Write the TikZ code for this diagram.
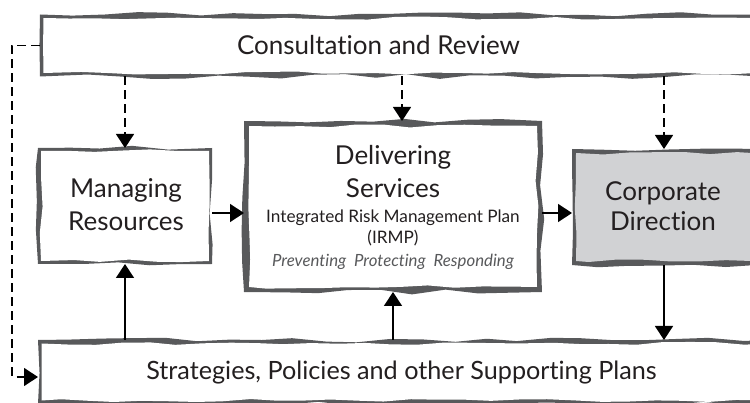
\documentclass[tikz,border=0pt]{standalone}
\usepackage{fontspec}
\setmainfont[Ligatures=NoCommon]{Lato}
\usetikzlibrary{arrows.meta,decorations.pathmorphing,calc}
\definecolor{edge}{HTML}{58595B}
\definecolor{cdfill}{HTML}{D1D2D4}
\definecolor{ink}{HTML}{231F20}
\tikzset{
 boxnode/.style={rectangle, inner sep=0pt, outer sep=0pt},
 outerjag/.style={fill=edge, decorate, decoration={random steps, segment length=32pt, amplitude=2.4pt}},
 innerjag/.style={decorate, decoration={random steps, segment length=27pt, amplitude=1.6pt}},
 txt/.style={inner sep=0pt, text=ink, anchor=base},
 bigtxt/.style={txt, font=\fontsize{26}{30}\selectfont},
 solidarr/.style={draw=black, line width=1.4pt, -{Triangle[length=14pt,width=18pt]}},
 dasharr/.style={solidarr, line width=1.3pt, dash pattern=on 9pt off 5pt},
}
\newcommand\jagbox[3]{%
 \fill[outerjag] (#1.south west) rectangle (#1.north east);
 \fill[innerjag, fill=#3] ([xshift=#2,yshift=#2]#1.south west) rectangle ([xshift=-#2,yshift=-#2]#1.north east);
}
\begin{document}
\begin{tikzpicture}[x=1pt,y=-1pt]
\pgfmathsetseed{7}
\useasboundingbox (0,0) rectangle (750,403);
\fill[white] (0,0) rectangle (750,403);
\clip (0,0) rectangle (750,403);
% box nodes
\node[boxnode, minimum width=720pt, minimum height=62pt] (cr) at (400,45.5) {};
\node[boxnode, minimum width=174pt, minimum height=116pt] (mr) at (125,206) {};
\node[boxnode, minimum width=298pt, minimum height=171pt] (ds) at (393,206.5) {};
\node[boxnode, minimum width=184pt, minimum height=116pt] (cd) at (664,207) {};
\node[boxnode, minimum width=728pt, minimum height=64pt] (sp) at (402,372) {};
% jagged borders
\jagbox{cr}{3.5pt}{white}
\jagbox{mr}{3pt}{white}
\jagbox{ds}{5pt}{white}
\jagbox{cd}{4pt}{cdfill}
\jagbox{sp}{3.5pt}{white}
% texts
\node[bigtxt] (crt) at (378.5,55) {Consultation and Review};
\node[bigtxt] (mrt1) at (126,198) {Managing};
\node[bigtxt] (mrt2) at (126,231) {Resources};
\node[bigtxt] (dst1) at (393,165) {Delivering};
\node[bigtxt] (dst2) at (393,198) {Services};
\node[txt, font=\fontsize{17.2}{20}\selectfont] (dst3) at (393,223) {Integrated Risk Management Plan};
\node[txt, font=\fontsize{17.2}{20}\selectfont] (dst4) at (393,244) {(IRMP)};
\node[txt, font=\fontsize{16.8}{20}\selectfont\itshape, text=edge] (dst5) at (393,267) {Preventing\ \ Protecting\ \ Responding};
\node[bigtxt] (cdt1) at (663,201) {Corporate};
\node[bigtxt] (cdt2) at (663,231) {Direction};
\node[txt, font=\fontsize{25.2}{30}\selectfont] (spt) at (401.5,380) {Strategies, Policies and other Supporting Plans};
% connectors
\draw[dasharr] (cr.south -| mr.north) -- (mr.north);
\draw[dasharr] ([xshift=9pt]ds.north |- cr.south) -- ([xshift=9pt]ds.north);
\draw[dasharr] (cr.south -| cd.north) -- (cd.north);
\draw[solidarr] ([yshift=-7pt]mr.east) -- ([yshift=-7pt]mr.east -| ds.west);
\draw[solidarr] ([yshift=-6.5pt]ds.east) -- ([yshift=-6.5pt]ds.east -| cd.west);
\draw[solidarr] (sp.north -| mr.south) -- (mr.south);
\draw[solidarr] (sp.north -| ds.south) -- (ds.south);
\draw[solidarr] (cd.south) -- (cd.south |- sp.north);
\coordinate (lp) at (12,200);
\draw[dasharr] (cr.west) -| (lp) |- ([yshift=-5pt]sp.west);
\end{tikzpicture}
\end{document}
